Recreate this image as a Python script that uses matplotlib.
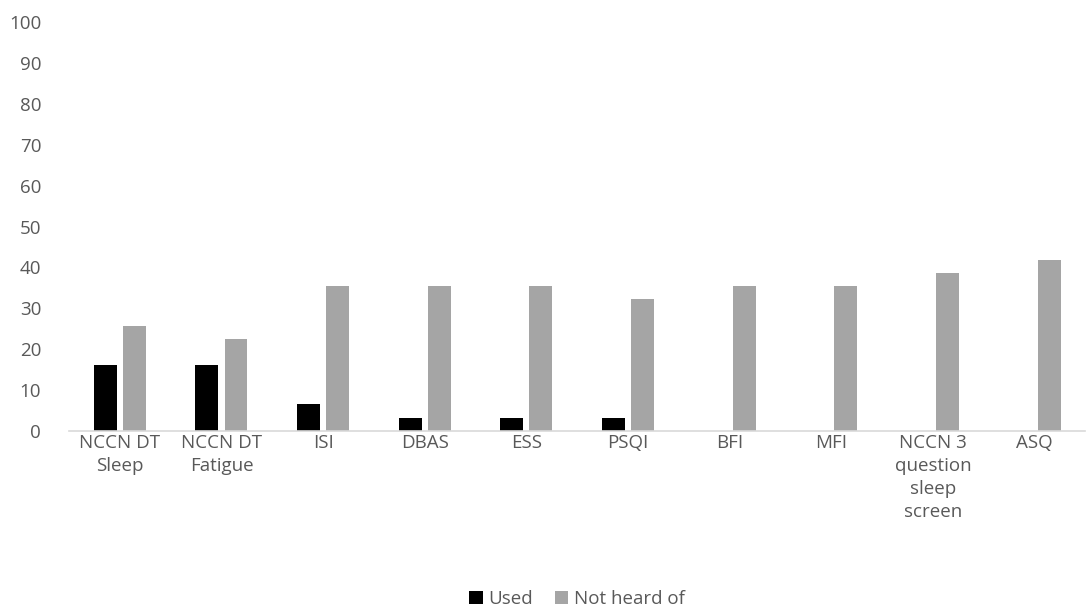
import matplotlib
matplotlib.use("Agg")
import matplotlib.pyplot as plt
import numpy as np

categories = ["NCCN DT\nSleep", "NCCN DT\nFatigue", "ISI", "DBAS", "ESS", "PSQI",
              "BFI", "MFI", "NCCN 3\nquestion\nsleep\nscreen", "ASQ"]
used = [16.1, 16.1, 6.5, 3.2, 3.2, 3.2, 0, 0, 0, 0]
not_heard = [25.8, 22.6, 35.5, 35.5, 35.5, 32.3, 35.5, 35.5, 38.7, 41.9]

plt.rcParams['font.family'] = ['Open Sans', 'DejaVu Sans']
text_color = '#595959'

fig = plt.figure(figsize=(10.87, 6.10), dpi=100)
ax = fig.add_axes([0.0635, 0.2934, 0.935, 0.6705])

x = np.arange(len(categories))
w = 0.226
gap = 0.06
ax.bar(x - (w + gap) / 2, used, width=w, color='black', label='Used')
ax.bar(x + (w + gap) / 2, not_heard, width=w, color='#a5a5a5', label='Not heard of')

ax.set_xlim(-0.5, len(categories) - 0.5)
ax.set_ylim(0, 100)
ax.set_yticks(range(0, 101, 10))
ax.set_xticks(x)
ax.set_xticklabels(categories, linespacing=1.35)

for s in ['top', 'right', 'left']:
    ax.spines[s].set_visible(False)
ax.spines['bottom'].set_color('#d9d9d9')
ax.spines['bottom'].set_linewidth(1.2)
ax.tick_params(axis='both', length=0, labelsize=13.5, colors=text_color)
ax.tick_params(axis='x', pad=2)
ax.tick_params(axis='y', pad=20)

leg = ax.legend(loc='lower center', bbox_to_anchor=(0.5, -0.475), ncol=2, frameon=False,
                fontsize=13.5, handlelength=0.7, handleheight=0.7, handletextpad=0.3,
                columnspacing=1.2)
for t in leg.get_texts():
    t.set_color(text_color)

fig.savefig("out.png", dpi=100)
